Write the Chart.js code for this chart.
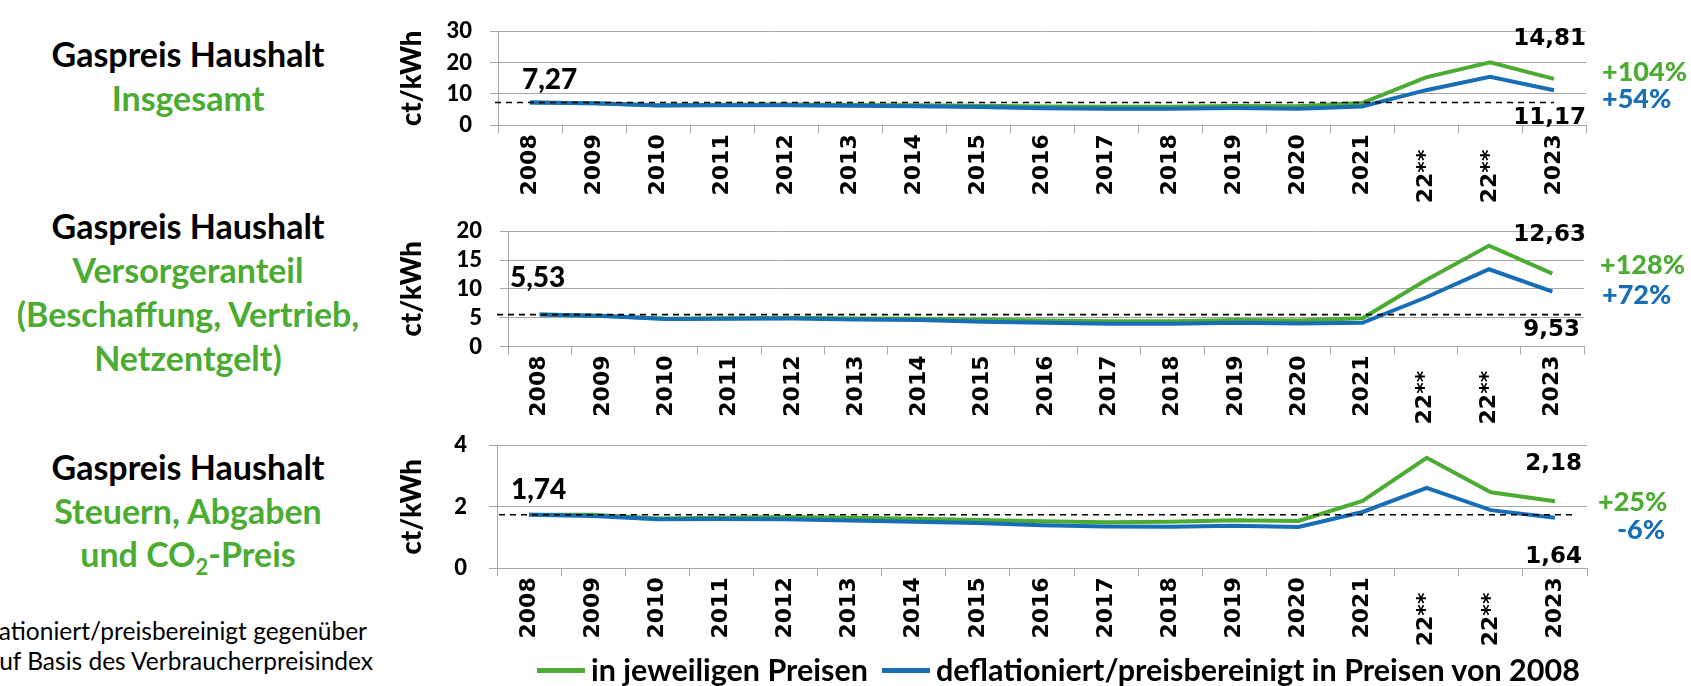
<!DOCTYPE html>
<html>
<head>
<meta charset="utf-8">
<script src="https://cdn.jsdelivr.net/npm/chart.js@4.4.1/dist/chart.umd.min.js"></script>
<style>
  body { margin: 0; width: 1691px; height: 686px; overflow: hidden; background: #fff; position: relative; font-family: Lato, sans-serif; }
  .box { position: absolute; }
  .side { position: absolute; left: 0; width: 376px; text-align: center; font-weight: bold; font-size: 34px; line-height: 44px; color: #000; white-space: nowrap; }
  .green { color: #4cab32; }
  .blue { color: #176db6; }
  .val { position: absolute; font-family: "DejaVu Sans"; font-weight: bold; font-size: 23px; line-height: 23px; white-space: nowrap; }
  .pct { position: absolute; font-weight: 900; font-size: 27px; line-height: 27px; white-space: nowrap; }
  .base { position: absolute; font-weight: 900; font-size: 28px; line-height: 28px; white-space: nowrap; }
  .note { position: absolute; font-size: 24.5px; line-height: 24px; white-space: nowrap; }
  .leg { position: absolute; font-weight: bold; font-size: 30.5px; line-height: 30px; white-space: nowrap; top: 654px; }
  .swatch { position: absolute; height: 5px; top: 668px; }
</style>
</head>
<body>

<div class="side" style="top:32px">Gaspreis Haushalt<br><span class="green">Insgesamt</span></div>
<div class="side" style="top:204px;line-height:44px">Gaspreis Haushalt<br><span class="green">Versorgeranteil<br>(Beschaffung, Vertrieb,<br>Netzentgelt)</span></div>
<div class="side" style="top:445px;line-height:43.5px">Gaspreis Haushalt<br><span class="green">Steuern, Abgaben<br>und CO<sub style="font-size:22px;line-height:0">2</sub>-Preis</span></div>

<div class="note" style="right:1324px;top:619px">* deflationiert/preisbereinigt gegenüber</div>
<div class="note" style="right:1318px;top:649px">2008 auf Basis des Verbraucherpreisindex</div>

<div class="box" style="left:390px;top:0px;width:1210px;height:215px"><canvas id="c1"></canvas></div>
<div class="box" style="left:390px;top:200px;width:1210px;height:230px"><canvas id="c2"></canvas></div>
<div class="box" style="left:390px;top:410px;width:1210px;height:240px"><canvas id="c3"></canvas></div>

<div id="labels"></div>

<div class="swatch" style="left:537px;width:48px;background:#4cab32"></div>
<div class="leg" style="left:591px" id="leg1"></div>
<div class="swatch" style="left:882px;width:48px;background:#176db6"></div>
<div class="leg" style="left:936px" id="leg2"></div>

<script>
const years = ['2008', '2009', '2010', '2011', '2012', '2013', '2014', '2015', '2016', '2017', '2018', '2019', '2020', '2021', '22**', '22**', '2023'];
const seriesNames = ['in jeweiligen Preisen', 'deflationiert/preisbereinigt in Preisen von 2008'];

// Insgesamt
const totalNominal = [7.27, 7.05, 6.42, 6.52, 6.62, 6.45, 6.4, 6.2, 6.03, 5.9, 5.9, 6.18, 6.05, 7.1, 15.3, 20.1, 14.81];
const totalReal = [7.27, 7.0, 6.3, 6.4, 6.4, 6.25, 6.1, 5.8, 5.4, 5.3, 5.25, 5.5, 5.3, 6.0, 11.2, 15.5, 11.17];
// Versorgeranteil
const supplyNominal = [5.53, 5.32, 4.8, 4.9, 5.0, 4.85, 4.8, 4.65, 4.5, 4.4, 4.4, 4.6, 4.5, 4.9, 11.5, 17.5, 12.63];
const supplyReal = [5.53, 5.3, 4.75, 4.8, 4.85, 4.7, 4.6, 4.3, 4.1, 3.95, 3.95, 4.1, 4.0, 4.1, 8.5, 13.4, 9.53];
// Steuern, Abgaben, CO2
const taxNominal = [1.74, 1.74, 1.62, 1.64, 1.67, 1.64, 1.61, 1.57, 1.53, 1.5, 1.51, 1.56, 1.54, 2.19, 3.59, 2.47, 2.18];
const taxReal = [1.74, 1.7, 1.59, 1.6, 1.59, 1.55, 1.51, 1.47, 1.4, 1.36, 1.35, 1.38, 1.34, 1.83, 2.61, 1.89, 1.64];

const yTicks1 = [0, 10, 20, 30];
const yTicks2 = [0, 5, 10, 15, 20];
const yTicks3 = [0, 2, 4];

const GREEN = '#4cab32';
const BLUE = '#176db6';
const GRID = '#a6a6a6';

Chart.defaults.font.family = 'Lato';
Chart.defaults.color = '#000';

// dashed line at the 2008 level
const baseLine = {
  id: 'baseLine',
  afterDatasetsDraw(chart, args, opts) {
    const { ctx, chartArea, scales } = chart;
    const y = scales.y.getPixelForValue(opts.value);
    const x0 = chartArea.left + opts.from;
    const x1 = opts.toLast ? scales.x.getPixelForValue(chart.data.labels.length - 1) : chartArea.right + opts.to;
    ctx.save();
    ctx.strokeStyle = '#000';
    ctx.lineWidth = 1.6;
    ctx.setLineDash([6, 5]);
    ctx.beginPath();
    ctx.moveTo(x0, y);
    ctx.lineTo(x1, y);
    ctx.stroke();
    ctx.restore();
  }
};

function makeChart(id, nominal, real, ticks, cfg) {
  new Chart(document.getElementById(id), {
    type: 'line',
    data: {
      labels: years,
      datasets: [
        { label: seriesNames[0], data: nominal, borderColor: GREEN, borderWidth: 4, pointRadius: 0, order: 1 },
        { label: seriesNames[1], data: real, borderColor: BLUE, borderWidth: 4, pointRadius: 0, order: 0 }
      ]
    },
    options: {
      responsive: true,
      maintainAspectRatio: false,
      animation: false,
      layout: { padding: { top: cfg.padTop, right: cfg.padRight, left: 0, bottom: 0 } },
      plugins: {
        legend: { display: false },
        tooltip: { enabled: false },
        baseLine: { value: nominal[0], from: cfg.dashFrom, to: cfg.dashTo, toLast: cfg.dashLast }
      },
      scales: {
        x: {
          offset: true,
          grid: { drawOnChartArea: false, offset: true, tickLength: 8, color: GRID },
          border: { color: GRID },
          ticks: {
            autoSkip: false, minRotation: 90, maxRotation: 90, padding: 1,
            font: { family: 'DejaVu Sans', weight: 'bold', size: 22 },
            callback: (v, i) => years[i].includes('*') ? years[i] + '  ' : years[i]
          },
          afterFit: s => { s.height = cfg.xHeight; }
        },
        y: {
          min: ticks[0],
          max: ticks[ticks.length - 1],
          afterBuildTicks: s => { s.ticks = ticks.map(v => ({ value: v })); },
          grid: { color: GRID, tickLength: 8 },
          border: { color: GRID },
          ticks: { autoSkip: false, padding: cfg.tickPad, font: { weight: 900, size: 22 } },
          title: { display: true, text: 'ct/kWh', font: { weight: 900, size: 27.5 }, padding: { top: 5.5, bottom: 0 } },
          afterFit: s => { s.width = cfg.yWidth; }
        }
      }
    },
    plugins: [baseLine]
  });
}

makeChart('c1', totalNominal, totalReal, yTicks1, { padTop: 20, padRight: 14, yWidth: 108, xHeight: 89.7, tickPad: 18, dashFrom: -3, dashTo: 0, dashLast: true });
makeChart('c2', supplyNominal, supplyReal, yTicks2, { padTop: 23.5, padRight: 16, yWidth: 118, xHeight: 83.5, tickPad: 18, dashFrom: -11, dashTo: -2, dashLast: false });
makeChart('c3', taxNominal, taxReal, yTicks3, { padTop: 30, padRight: 13, yWidth: 107, xHeight: 81.7, tickPad: 22, dashFrom: 2, dashTo: -10, dashLast: false });

// value labels taken from the series
const fmt = v => v.toFixed(2).replace('.', ',');
const pct = (a, b) => { const p = Math.round((b / a - 1) * 100); return (p > 0 ? '+' : '') + p + '%'; };
const panels = [
  { n: totalNominal, r: totalReal, base: [522, 64], hi: [105, 25.5], lo: [105, 105], pg: [1602, 56.5], pb: [1602, 83.5] },
  { n: supplyNominal, r: supplyReal, base: [510, 262], hi: [105, 221.5], lo: [111, 316.5], pg: [1600, 249.5], pb: [1602, 279.5] },
  { n: taxNominal, r: taxReal, base: [511, 474], hi: [109, 450.5], lo: [109, 543.5], pg: [1598, 486.5], pb: [1617, 514.5] }
];
let html = '';
panels.forEach(p => {
  const last = p.n.length - 1;
  html += `<div class="base" style="left:${p.base[0]}px;top:${p.base[1]}px">${fmt(p.n[0])}</div>`;
  html += `<div class="val" style="right:${p.hi[0]}px;top:${p.hi[1]}px">${fmt(p.n[last])}</div>`;
  html += `<div class="val" style="right:${p.lo[0]}px;top:${p.lo[1]}px">${fmt(p.r[last])}</div>`;
  html += `<div class="pct green" style="left:${p.pg[0]}px;top:${p.pg[1]}px">${pct(p.n[0], p.n[last])}</div>`;
  html += `<div class="pct blue" style="left:${p.pb[0]}px;top:${p.pb[1]}px">${pct(p.r[0], p.r[last])}</div>`;
});
document.getElementById('labels').innerHTML = html;
document.getElementById('leg1').textContent = seriesNames[0];
document.getElementById('leg2').textContent = seriesNames[1];
</script>
</body>
</html>
